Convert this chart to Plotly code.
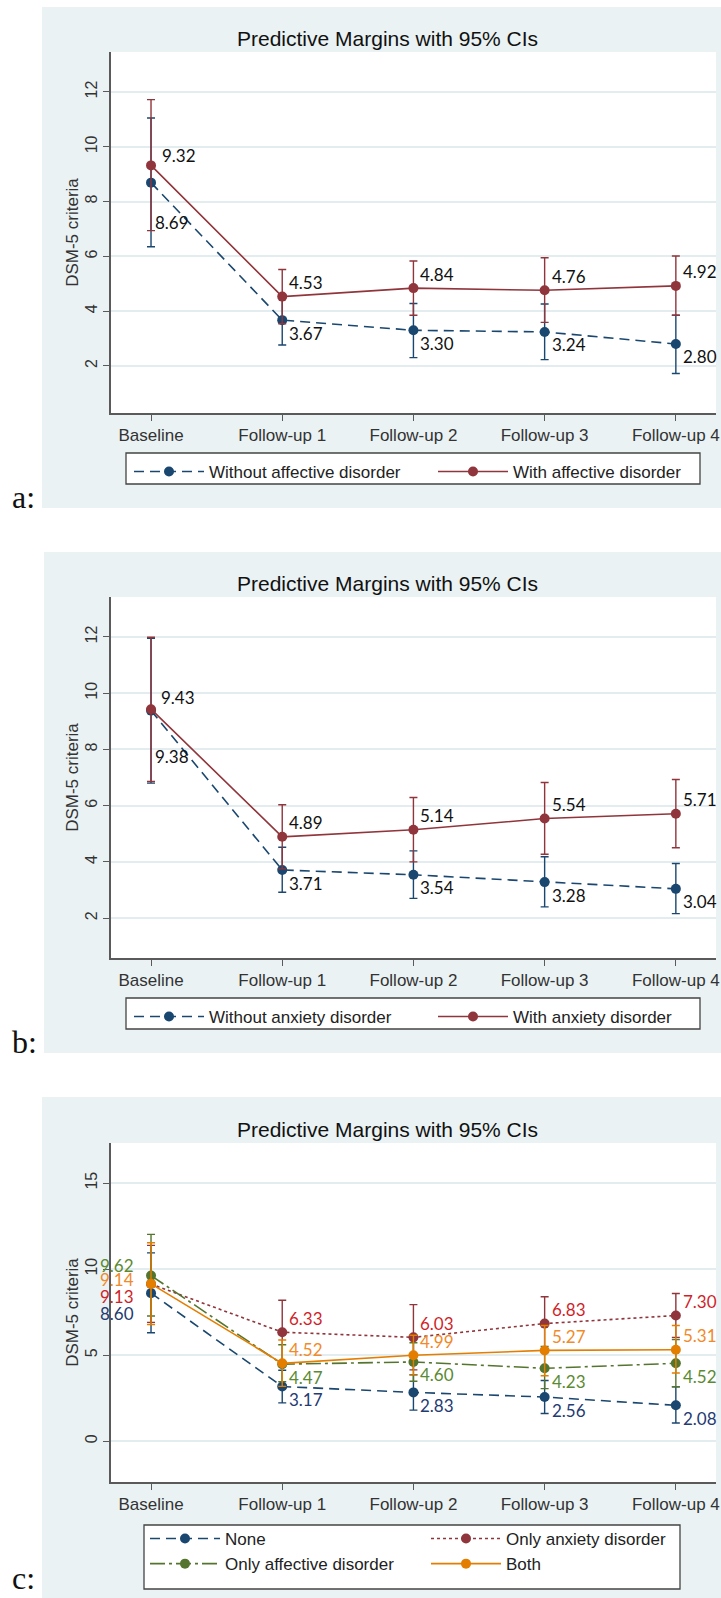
import plotly.graph_objects as go

W, H = 721, 1598

cats = ["Baseline", "Follow-up 1", "Follow-up 2", "Follow-up 3", "Follow-up 4"]
title_text = "Predictive Margins with 95% CIs"
y_title = "DSM-5 criteria"

# Panel a
a_without = [8.69, 3.67, 3.30, 3.24, 2.80]
a_without_lo = [6.35, 2.76, 2.30, 2.23, 1.72]
a_without_hi = [11.05, 4.58, 4.28, 4.26, 3.85]
a_with = [9.32, 4.53, 4.84, 4.76, 4.92]
a_with_lo = [6.94, 3.54, 3.85, 3.59, 3.85]
a_with_hi = [11.72, 5.52, 5.83, 5.95, 6.01]
a_names = ["Without affective disorder", "With affective disorder"]
a_yticks = [2, 4, 6, 8, 10, 12]

# Panel b
b_without = [9.38, 3.71, 3.54, 3.28, 3.04]
b_without_lo = [6.80, 2.92, 2.70, 2.40, 2.16]
b_without_hi = [11.95, 4.52, 4.39, 4.18, 3.94]
b_with = [9.43, 4.89, 5.14, 5.54, 5.71]
b_with_lo = [6.86, 3.75, 4.00, 4.27, 4.50]
b_with_hi = [11.99, 6.03, 6.29, 6.82, 6.93]
b_names = ["Without anxiety disorder", "With anxiety disorder"]
b_yticks = [2, 4, 6, 8, 10, 12]

# Panel c
c_none = [8.60, 3.17, 2.83, 2.56, 2.08]
c_none_lo = [6.30, 2.22, 1.80, 1.60, 1.05]
c_none_hi = [10.94, 4.12, 3.86, 3.52, 3.15]
c_anx = [9.13, 6.33, 6.03, 6.83, 7.30]
c_anx_lo = [6.90, 4.47, 4.14, 5.28, 6.02]
c_anx_hi = [11.38, 8.19, 7.93, 8.39, 8.58]
c_aff = [9.62, 4.47, 4.60, 4.23, 4.52]
c_aff_lo = [7.27, 3.45, 3.48, 3.05, 3.16]
c_aff_hi = [12.02, 5.60, 5.72, 5.50, 5.90]
c_both = [9.14, 4.52, 4.99, 5.27, 5.31]
c_both_lo = [6.78, 3.18, 3.85, 3.80, 3.96]
c_both_hi = [11.53, 5.88, 6.15, 6.72, 6.72]
c_names = ["None", "Only anxiety disorder", "Only affective disorder", "Both"]
c_yticks = [0, 5, 10, 15]

panel_letters = ["a:", "b:", "c:"]

# ---------------- styling ----------------
NAVY, MAROON, GREEN, ORANGE = "#1a476f", "#90353b", "#55752f", "#e37e00"
BG = "#EAF2F3"
GRID = "#E3EDEF"
AXC = "#5a5a5a"
SANS = "Liberation Sans, Arial, sans-serif"
LABF = "Lato, Open Sans, sans-serif"
DASH_BLUE = "10px,6px"
DASH_RED_DOT = "3px,3px"
DASH_GREEN = "15px,4px,3px,4px"

def px_x(p):
    return p / W

def px_y(p):
    return 1 - p / H

panels = [
    dict(bg=(42, 7, 721, 508), plot=(111, 52, 716, 413), yr=[0.28, 13.46], title_y=38,
         legend_box=(126, 453, 700, 484), legend_xy=(129, 454), letter_y=497,
         entry=219, last_w=[None, 172]),
    dict(bg=(44, 552, 721, 1053), plot=(111, 597, 716, 958), yr=[0.58, 13.42], title_y=583,
         legend_box=(126, 998, 700, 1029), legend_xy=(129, 999), letter_y=1042,
         entry=219, last_w=[None, 165]),
    dict(bg=(42, 1097, 721, 1598), plot=(111, 1143, 716, 1482), yr=[-2.38, 17.33], title_y=1129,
         legend_box=(144, 1525, 680, 1589), legend_xy=(145, 1521), letter_y=1578,
         entry=196, last_w=[None, 165, None, None]),
]
xr = [-0.305, 4.306]

fig = go.Figure()
shapes, annotations = [], []

def add_series(ax, y, lo, hi, name, color, dash, legend, label_color, up, base_shift, lw):
    xa = "x" if ax == 1 else f"x{ax}"
    ya = "y" if ax == 1 else f"y{ax}"
    fig.add_trace(go.Scatter(
        x=cats, y=y, name=name, mode="lines+markers",
        line=dict(color=color, width=1.6, dash=dash),
        marker=dict(color=color, size=10, line=dict(width=0)),
        error_y=dict(type="data", symmetric=False,
                     array=[h - v for h, v in zip(hi, y)],
                     arrayminus=[v - l for v, l in zip(y, lo)],
                     color=color, thickness=1.4, width=4),
        xaxis=xa, yaxis=ya, legend=legend, showlegend=True,
        legendwidth=lw,
    ))
    for i, (c, v) in enumerate(zip(cats, y)):
        if i == 0 and base_shift is not None:
            xs, ys, xanc = base_shift
        else:
            xs, ys, xanc = 5, (14 if up else -13), "left"
        annotations.append(dict(
            x=c, y=v, xref=xa, yref=ya, text=f"{v:.2f}", showarrow=False,
            xanchor=xanc, yanchor="middle", xshift=xs, yshift=ys,
            font=dict(family=LABF, size=17, color=label_color)))

BLACK = "#111111"
pa, pb, pc = panels
# a
add_series(1, a_without, a_without_lo, a_without_hi, a_names[0], NAVY, DASH_BLUE, "legend", BLACK, False, (2, -40, "left"), pa["last_w"][0])
add_series(1, a_with, a_with_lo, a_with_hi, a_names[1], MAROON, "solid", "legend", BLACK, True, (9, 10, "left"), pa["last_w"][1])
# b
add_series(2, b_without, b_without_lo, b_without_hi, b_names[0], NAVY, DASH_BLUE, "legend2", BLACK, False, (2, -46, "left"), pb["last_w"][0])
add_series(2, b_with, b_with_lo, b_with_hi, b_names[1], MAROON, "solid", "legend2", BLACK, True, (8, 12, "left"), pb["last_w"][1])
# c
add_series(3, c_none, c_none_lo, c_none_hi, c_names[0], NAVY, DASH_BLUE, "legend3", "#243a72", False, (-15, -20, "right"), pc["last_w"][0])
add_series(3, c_anx, c_anx_lo, c_anx_hi, c_names[1], MAROON, DASH_RED_DOT, "legend3", "#d01f2a", True, (-15, -12, "right"), pc["last_w"][1])
add_series(3, c_aff, c_aff_lo, c_aff_hi, c_names[2], GREEN, DASH_GREEN, "legend3", "#5b8a32", False, (-15, 10, "right"), pc["last_w"][2])
add_series(3, c_both, c_both_lo, c_both_hi, c_names[3], ORANGE, "solid", "legend3", "#f08a2a", True, (-15, 4, "right"), pc["last_w"][3])

layout = dict(
    width=W, height=H, margin=dict(l=0, r=0, t=0, b=0, autoexpand=False),
    paper_bgcolor="white", plot_bgcolor="white",
    font=dict(family=SANS, size=17, color="#333333"),
)

yticks = [a_yticks, b_yticks, c_yticks]
legend_keys = ["legend", "legend2", "legend3"]
for k, p in enumerate(panels):
    n = "" if k == 0 else str(k + 1)
    x0, y0, x1, y1 = p["plot"]
    layout[f"xaxis{n}"] = dict(
        domain=[px_x(x0), px_x(x1)], range=xr, type="category",
        anchor=f"y{n}", showline=True, linecolor=AXC, linewidth=1.5,
        ticks="outside", ticklen=6, tickcolor=AXC, tickwidth=1.3,
        showgrid=False, zeroline=False,
        tickfont=dict(family=SANS, size=17, color="#333333"), fixedrange=True,
    )
    layout[f"yaxis{n}"] = dict(
        domain=[px_y(y1), px_y(y0)], range=p["yr"], anchor=f"x{n}",
        tickvals=yticks[k], tickangle=-90,
        showline=True, linecolor=AXC, linewidth=1.5,
        ticks="outside", ticklen=6, tickcolor=AXC, tickwidth=1.3,
        showgrid=True, gridcolor=GRID, gridwidth=1.5, zeroline=False,
        tickfont=dict(family=SANS, size=16, color="#333333"),
        title=dict(text=y_title, font=dict(family=SANS, size=17, color="#333333"), standoff=0),
        fixedrange=True,
    )
    bx0, by0, bx1, by1 = p["bg"]
    shapes.append(dict(type="rect", xref="paper", yref="paper", layer="below",
                       x0=px_x(bx0), x1=px_x(bx1), y0=px_y(by1), y1=px_y(by0),
                       fillcolor=BG, line=dict(width=0)))
    shapes.append(dict(type="rect", xref=f"x{n} domain", yref=f"y{n} domain", layer="below",
                       x0=0, x1=1, y0=0, y1=1, fillcolor="white", line=dict(width=0)))
    lx0, ly0, lx1, ly1 = p["legend_box"]
    shapes.append(dict(type="rect", xref="paper", yref="paper", layer="above",
                       x0=px_x(lx0), x1=px_x(lx1), y0=px_y(ly1), y1=px_y(ly0),
                       fillcolor="white", line=dict(color="#444444", width=1.3)))
    annotations.append(dict(text=title_text, xref="paper", yref="paper",
                            x=px_x(387), y=px_y(p["title_y"]), xanchor="center", yanchor="middle",
                            showarrow=False, font=dict(family=SANS, size=21, color="#111111")))
    annotations.append(dict(text=panel_letters[k], xref="paper", yref="paper",
                            x=px_x(10), y=px_y(p["letter_y"]), xanchor="left", yanchor="middle",
                            showarrow=False, font=dict(family="Liberation Serif, Times New Roman, serif",
                                                       size=32, color="#111111")))
    lgx, lgy = p["legend_xy"]
    layout[legend_keys[k]] = dict(
        orientation="h", x=px_x(lgx), y=px_y(lgy), xanchor="left", yanchor="top",
        bgcolor="rgba(0,0,0,0)", borderwidth=0, itemwidth=70,
        entrywidth=p["entry"], entrywidthmode="pixels",
        font=dict(family=SANS, size=17, color="#222222"), traceorder="normal",
        itemclick=False, itemdoubleclick=False,
    )

layout["shapes"] = shapes
layout["annotations"] = annotations
fig.update_layout(**layout)
fig.write_html(
    "out.html",
    config={"displayModeBar": False, "staticPlot": False},
    post_script="document.body.style.margin='0';document.body.style.overflow='hidden';"
                "document.documentElement.style.overflow='hidden';",
)
